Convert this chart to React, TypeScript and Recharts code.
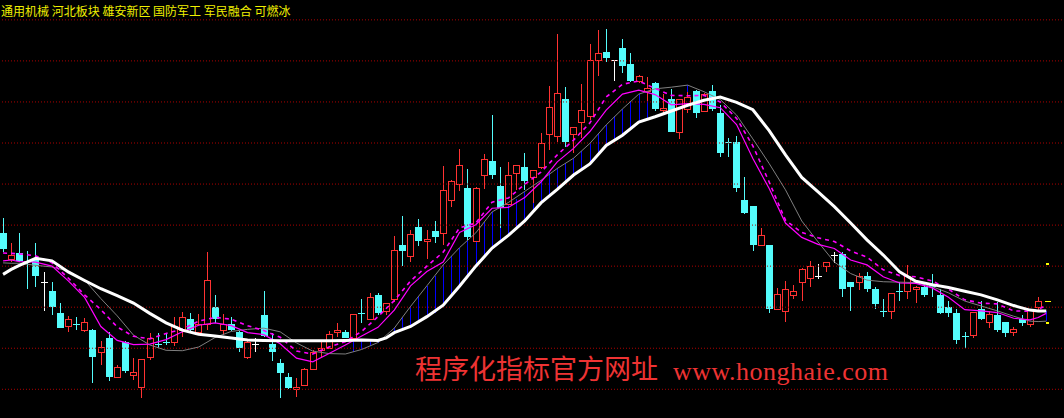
import React from 'react';
import { ComposedChart, Bar, Line, XAxis, YAxis, ReferenceLine } from 'recharts';

const opens = [13.81,13.17,13.31,13.13,13.15,12.61,12.40,11.86,11.52,11.59,11.43,11.44,10.89,11.26,10.28,11.15,10.33,10.05,10.78,11.10,11.15,11.14,11.44,11.71,11.38,11.59,12.00,11.43,11.58,11.40,10.77,11.10,11.81,11.10,10.63,10.29,10.00,10.10,10.49,10.94,11.00,11.39,11.39,11.24,11.85,11.71,12.30,11.89,12.19,13.52,13.23,13.95,13.61,13.86,13.80,14.59,14.99,14.91,13.60,15.21,15.56,14.95,14.51,15.26,15.42,15.16,15.41,16.21,16.15,17.07,16.21,16.50,16.64,18.02,18.21,18.01,18.31,17.92,17.51,17.25,17.45,16.78,17.07,16.25,16.82,17.27,16.76,17.27,16.73,16.02,16.02,14.61,14.47,13.51,13.52,11.95,11.89,12.29,12.61,12.70,12.74,12.99,13.25,13.30,12.61,12.61,12.76,12.44,11.91,11.90,12.39,12.38,12.42,12.50,12.54,12.30,12.01,11.87,11.29,11.32,11.96,11.63,11.81,11.65,11.39,11.71,11.58,11.99];
const highs = [14.17,13.56,13.80,13.37,13.57,12.86,12.61,12.10,11.79,11.75,11.74,11.47,11.18,11.39,10.58,11.18,10.76,10.73,11.36,11.38,11.38,11.77,11.88,11.85,11.83,13.34,12.30,11.83,11.75,11.42,11.18,11.24,12.40,11.36,10.73,10.39,10.27,10.52,10.96,11.16,11.42,11.62,11.44,11.83,12.21,12.34,12.35,12.11,13.74,14.22,13.88,14.15,13.88,14.09,15.44,15.10,15.85,15.37,14.92,15.73,16.67,15.42,15.54,15.46,15.76,15.34,16.24,17.39,18.66,17.36,16.39,17.44,18.41,18.75,18.78,18.02,18.53,18.19,17.66,17.62,17.49,17.19,17.32,17.07,17.24,17.29,17.22,17.41,16.93,16.11,16.17,15.18,14.47,13.94,13.52,12.46,12.63,12.54,12.95,13.13,13.05,13.09,13.35,13.35,12.61,12.83,12.86,12.49,12.19,12.34,12.62,13.03,12.52,12.62,12.81,12.44,12.15,11.95,11.40,11.87,12.15,11.91,12.13,11.65,11.51,11.81,11.91,12.24];
const lows = [13.34,13.10,13.10,12.45,12.50,11.91,11.81,11.49,11.40,11.44,11.40,10.16,10.59,10.20,10.28,10.40,10.22,9.79,10.71,11.00,11.07,11.06,11.27,11.42,11.37,11.44,11.61,11.32,11.43,10.92,10.74,10.92,11.27,10.70,9.79,10.00,9.82,10.08,10.47,10.79,10.98,11.27,11.25,11.23,11.61,11.69,11.81,11.81,12.13,13.01,13.11,13.48,13.17,13.57,13.52,14.43,14.83,13.64,13.59,14.87,15.12,13.92,14.49,14.86,14.86,14.53,15.37,15.83,16.03,15.91,15.75,16.11,16.56,17.63,17.98,17.51,17.70,17.49,17.46,17.03,16.79,16.68,16.27,16.09,16.72,16.62,16.75,16.79,15.67,15.67,14.81,14.27,13.38,13.49,11.87,11.95,11.65,12.21,12.16,12.50,12.68,12.86,13.07,12.26,11.91,12.41,12.37,11.96,11.77,11.72,12.15,12.19,12.11,12.26,12.26,11.83,11.77,11.10,11.01,11.26,11.70,11.50,11.39,11.27,11.31,11.54,11.51,11.92];
const closes = [13.42,13.25,13.13,13.10,12.76,12.61,12.01,11.50,11.71,11.56,11.63,10.79,11.01,10.31,10.54,10.45,10.40,10.73,11.24,11.08,11.12,11.52,11.75,11.44,11.58,12.66,11.72,11.58,11.44,11.01,11.15,11.10,11.30,10.92,10.40,10.02,10.05,10.49,10.90,11.00,11.34,11.44,11.26,11.81,11.83,12.24,11.85,12.10,13.37,13.38,13.76,13.62,13.65,13.72,14.85,15.07,15.46,13.72,14.90,15.60,15.22,14.42,15.21,15.46,15.08,15.32,15.98,16.87,17.21,16.03,16.37,16.78,18.02,18.17,18.08,18.01,17.88,17.52,17.63,17.32,16.82,16.83,16.28,17.05,17.11,16.74,17.18,16.83,15.76,15.99,14.91,14.29,13.52,13.75,11.96,12.30,12.44,12.39,12.91,13.00,12.74,13.09,13.25,12.45,12.50,12.75,12.45,12.07,11.89,12.34,12.37,12.74,12.47,12.30,12.49,11.87,11.87,11.20,11.27,11.87,11.71,11.81,11.44,11.36,11.46,11.61,11.91,12.15];

const whiteMA: [number, number][] = [[0,12.80],[1,12.92],[2,13.02],[4,13.19],[6,13.13],[8,12.86],[10,12.65],[12,12.45],[14,12.28],[16,12.10],[18,11.85],[20,11.62],[22,11.44],[24,11.34],[26,11.30],[28,11.25],[30,11.20],[32,11.19],[34,11.18],[36,11.18],[38,11.18],[40,11.18],[42,11.19],[44,11.20],[46,11.19],[47,11.25],[48,11.38],[50,11.53],[52,11.77],[54,12.05],[56,12.51],[58,13.00],[60,13.44],[62,13.75],[64,14.10],[66,14.54],[68,14.87],[70,15.22],[72,15.49],[74,15.94],[76,16.19],[78,16.51],[80,16.64],[82,16.78],[84,16.92],[86,17.04],[88,17.12],[90,16.99],[92,16.81],[94,16.30],[96,15.71],[98,15.16],[100,14.81],[102,14.45],[104,14.05],[106,13.64],[108,13.27],[110,12.86],[112,12.63],[114,12.55],[116,12.48],[118,12.39],[120,12.30],[122,12.18],[124,12.04],[126,11.93],[127,11.91],[128,11.91]];
const greyMA: [number, number][] = [[0,13.08],[1,13.07],[2,13.07],[4,13.02],[6,12.98],[8,12.88],[10,12.66],[12,12.21],[14,11.79],[16,11.32],[18,11.08],[20,10.95],[22,10.94],[24,11.03],[26,11.26],[28,11.41],[30,11.46],[32,11.49],[34,11.40],[36,11.13],[38,10.93],[40,10.87],[42,10.86],[44,10.97],[46,11.14],[48,11.49],[50,12.02],[52,12.52],[54,13.03],[56,13.45],[58,13.81],[60,14.32],[62,14.55],[64,14.82],[66,15.09],[68,15.38],[70,15.63],[72,15.99],[74,16.44],[76,16.83],[78,17.19],[80,17.32],[82,17.36],[84,17.41],[86,17.25],[88,17.06],[90,16.68],[92,16.10],[94,15.50],[96,14.86],[98,14.10],[100,13.59],[102,13.10],[104,12.82],[106,12.66],[108,12.62],[110,12.61],[112,12.60],[114,12.50],[116,12.35],[118,12.15],[120,12.03],[122,11.91],[124,11.78],[126,11.66],[127,11.65],[128,11.66]];
const magentaMA: [number, number][] = [[0,13.13],[1,13.15],[2,13.11],[4,13.10],[6,13.00],[8,12.64],[10,12.24],[12,11.53],[14,11.19],[16,11.09],[18,11.10],[20,11.21],[22,11.40],[24,11.56],[26,11.62],[28,11.55],[30,11.38],[32,11.33],[34,11.11],[36,10.76],[38,10.67],[40,10.87],[42,11.08],[44,11.30],[46,11.51],[48,11.93],[50,12.52],[52,12.87],[54,13.10],[56,13.82],[58,14.01],[60,14.41],[62,14.43],[64,14.67],[66,15.05],[68,15.54],[70,15.87],[72,16.28],[74,16.80],[76,17.19],[78,17.29],[80,17.18],[82,16.93],[84,16.96],[86,16.94],[88,16.86],[90,16.45],[92,15.62],[94,14.89],[96,14.05],[98,13.70],[100,13.53],[102,13.43],[104,13.15],[106,13.03],[108,12.74],[110,12.59],[112,12.58],[114,12.47],[116,12.24],[118,11.94],[120,11.91],[122,11.87],[124,11.73],[126,11.69],[127,11.75],[128,11.85]];
const magentaDashMA: [number, number][] = [[0,13.32],[1,13.31],[2,13.30],[4,13.25],[6,13.08],[8,12.71],[10,12.30],[12,11.94],[14,11.52],[16,11.29],[18,11.23],[20,11.36],[22,11.47],[24,11.66],[26,11.75],[28,11.71],[30,11.55],[32,11.43],[34,11.27],[36,10.93],[38,10.86],[40,11.03],[42,11.16],[44,11.41],[46,11.77],[48,12.16],[50,12.64],[52,13.00],[54,13.34],[56,13.93],[58,14.05],[60,14.56],[62,14.66],[64,14.99],[66,15.29],[68,15.71],[70,16.07],[72,16.49],[74,17.12],[76,17.43],[78,17.51],[80,17.33],[82,17.16],[84,17.15],[86,17.16],[88,17.00],[90,16.60],[92,15.93],[94,15.05],[96,14.12],[98,13.82],[100,13.69],[102,13.60],[104,13.37],[106,13.22],[108,12.91],[110,12.77],[112,12.74],[114,12.64],[116,12.44],[118,12.18],[120,12.10],[122,12.08],[124,11.91],[126,11.90],[127,11.94],[128,12.05]];

// index, lower end (white line), upper end (grey line)
const blueSpans: [number, number, number][] = [[43,11.20,10.91],[44,11.20,10.97],[45,11.19,11.05],[46,11.19,11.14],[47,11.25,11.24],[48,11.38,11.49],[49,11.43,11.76],[50,11.53,12.02],[51,11.65,12.27],[52,11.77,12.52],[53,11.87,12.77],[54,12.05,13.03],[55,12.27,13.25],[56,12.51,13.45],[57,12.76,13.65],[58,13.00,13.81],[59,13.22,14.08],[60,13.44,14.32],[61,13.56,14.49],[62,13.75,14.55],[63,13.88,14.64],[64,14.10,14.82],[65,14.34,14.95],[66,14.54,15.09],[67,14.73,15.29],[68,14.87,15.38],[69,15.07,15.51],[70,15.22,15.63],[71,15.37,15.81],[72,15.49,15.99],[73,15.72,16.24],[74,15.94,16.44],[75,16.09,16.65],[76,16.19,16.83],[77,16.34,17.02],[78,16.51,17.19],[79,16.61,17.29],[84,16.92,17.41],[128,11.91,11.66]];

const yellowMarks = [13.05, 12.14, 11.62];
const yellowMarkWidths = [3, 6, 3];
const gridLevels = [10, 11, 12, 13, 14, 15, 16, 17, 18, 19];
const titleText = '通用机械 河北板块 雄安新区 国防军工 军民融合 可燃冰';
const watermarkCn = '程序化指标官方网址';
const watermarkUrl = 'www.honghaie.com';

const RED = '#ff3232';
const CYAN = '#54fcfc';

const TOTAL_ROWS = 131;
const wM = new Map(whiteMA);
const gM = new Map(greyMA);
const mM = new Map(magentaMA);
const dM = new Map(magentaDashMA);
const bM = new Map(blueSpans.map((s) => [s[0], [s[1], s[2]]] as [number, number[]]));

const rows = Array.from({ length: TOTAL_ROWS }, (_, i) => {
  const row: any = { i };
  if (i < opens.length) {
    row.o = opens[i]; row.h = highs[i]; row.l = lows[i]; row.c = closes[i];
  }
  row.wma = wM.get(i);
  row.gma = gM.get(i);
  row.mma = mM.get(i);
  row.dma = dM.get(i);
  const b = bM.get(i);
  if (b) { row.bl = b[0]; row.bh = b[1]; }
  if (i === 128) row.marks = yellowMarks;
  const vals = [row.h, row.l, row.bl, row.bh, ...(row.marks || [])].filter((v) => v !== undefined);
  if (vals.length) { row.spanLo = Math.min(...vals); row.spanHi = Math.max(...vals); }
  return row;
});

const CandleShape = (props: any) => {
  const { x, y, width, height, payload } = props;
  if (!payload || payload.spanHi === undefined || !(height > 0)) return null;
  const top = payload.spanHi;
  const bot = payload.spanLo;
  const k = height / (top - bot);
  const py = (v: number) => y + (top - v) * k;
  const cx = x + width / 2;
  const parts: any[] = [];
  if (payload.bl !== undefined) {
    parts.push(<line key="b" x1={cx} x2={cx} y1={py(payload.bl)} y2={py(payload.bh)} stroke="#0000ff" strokeWidth={1} />);
  }
  if (payload.o !== undefined) {
    const { o, h, l, c } = payload;
    if (c > o) {
      const bt = py(c), bb = py(o);
      parts.push(<line key="w1" x1={cx} x2={cx} y1={py(h)} y2={bt} stroke={RED} />);
      parts.push(<line key="w2" x1={cx} x2={cx} y1={bb} y2={py(l)} stroke={RED} />);
      parts.push(<rect key="r" x={cx - 3} y={bt} width={6} height={Math.max(bb - bt, 1)} fill="#000" stroke={RED} strokeWidth={1} />);
    } else if (c < o) {
      const bt = py(o), bb = py(c);
      parts.push(<line key="w" x1={cx} x2={cx} y1={py(h)} y2={py(l)} stroke={CYAN} />);
      parts.push(<rect key="r" x={cx - 3.5} y={bt} width={7} height={Math.max(bb - bt, 1)} fill={CYAN} />);
    } else {
      parts.push(<line key="w" x1={cx} x2={cx} y1={py(h)} y2={py(l)} stroke="#fff" />);
      parts.push(<line key="hz" x1={cx - 3.5} x2={cx + 3.5} y1={py(o)} y2={py(o)} stroke="#fff" />);
    }
  }
  if (payload.marks) {
    payload.marks.forEach((m: number, j: number) => {
      const w = yellowMarkWidths[j];
      parts.push(<line key={'m' + j} x1={cx + 1 - w / 2} x2={cx + 1 + w / 2} y1={py(m)} y2={py(m)} stroke="#ffff00" strokeWidth={1.5} />);
    });
  }
  return <g shapeRendering="crispEdges">{parts}</g>;
};

const BAND = 8.15;
const LEFT = -0.775;

export default function App() {
  return (
    <div style={{ position: 'fixed', left: 0, top: 0, width: 1064, height: 418, background: '#000', overflow: 'hidden' }}>
      <div style={{ position: 'absolute', left: LEFT, top: 0 }}>
        <ComposedChart width={TOTAL_ROWS * BAND} height={418} data={rows} margin={{ top: 0, right: 0, bottom: 0, left: 0 }}>
          <XAxis dataKey="i" type="category" hide />
          <YAxis type="number" hide domain={[9.3008, 19.4836]} allowDataOverflow />
          {gridLevels.map((v) => (
            <ReferenceLine key={v} y={v} stroke="#b00000" strokeDasharray="1 2" ifOverflow="visible" />
          ))}
          <Bar
            dataKey={(d: any) => (d.spanHi !== undefined ? [d.spanLo, d.spanHi] : null)}
            shape={CandleShape}
            isAnimationActive={false}
          />
          <Line dataKey="gma" stroke="#808080" strokeWidth={1} dot={false} activeDot={false} connectNulls isAnimationActive={false} type="linear" />
          <Line dataKey="mma" stroke="#ff00ff" strokeWidth={1.2} dot={false} activeDot={false} connectNulls isAnimationActive={false} type="linear" />
          <Line dataKey="dma" stroke="#ff00ff" strokeWidth={1.6} strokeDasharray="4 4" dot={false} activeDot={false} connectNulls isAnimationActive={false} type="linear" />
          <Line dataKey="wma" stroke="#ffffff" strokeWidth={3} dot={false} activeDot={false} connectNulls isAnimationActive={false} type="linear" />
        </ComposedChart>
      </div>
      <svg width={1064} height={418} style={{ position: 'absolute', left: 0, top: 0, pointerEvents: 'none' }}>
        <text x={1} y={16} fontFamily="'Noto Sans CJK SC'" fontSize={12} fill="#f0f000">{titleText}</text>
        <text x={415} y={379} fontFamily="'Noto Sans CJK SC'" fontSize={27} fill="#ee3333">{watermarkCn}</text>
        <text x={673} y={379.5} fontFamily="'Liberation Serif'" fontSize={26} fill="#ee3333" textLength={215} lengthAdjust="spacing">{watermarkUrl}</text>
      </svg>
    </div>
  );
}
